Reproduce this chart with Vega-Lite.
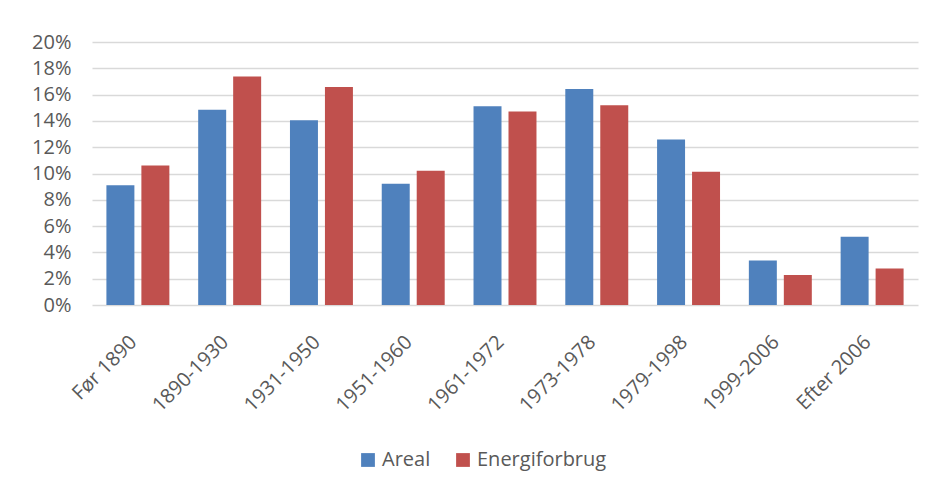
{
  "$schema": "https://vega.github.io/schema/vega-lite/v6.json",
  "width": 826,
  "height": 263,
  "autosize": {"type": "none"},
  "padding": {"left": 92, "top": 42, "right": 18, "bottom": 185},
  "background": "white",
  "data": {
    "values": [
      {"periode": "Før 1890", "serie": "Areal", "andel": 0.091},
      {"periode": "Før 1890", "serie": "Energiforbrug", "andel": 0.106},
      {"periode": "1890-1930", "serie": "Areal", "andel": 0.1485},
      {"periode": "1890-1930", "serie": "Energiforbrug", "andel": 0.1737},
      {"periode": "1931-1950", "serie": "Areal", "andel": 0.1404},
      {"periode": "1931-1950", "serie": "Energiforbrug", "andel": 0.1658},
      {"periode": "1951-1960", "serie": "Areal", "andel": 0.0922},
      {"periode": "1951-1960", "serie": "Energiforbrug", "andel": 0.102},
      {"periode": "1961-1972", "serie": "Areal", "andel": 0.1511},
      {"periode": "1961-1972", "serie": "Energiforbrug", "andel": 0.1471},
      {"periode": "1973-1978", "serie": "Areal", "andel": 0.1643},
      {"periode": "1973-1978", "serie": "Energiforbrug", "andel": 0.1519},
      {"periode": "1979-1998", "serie": "Areal", "andel": 0.1258},
      {"periode": "1979-1998", "serie": "Energiforbrug", "andel": 0.1013},
      {"periode": "1999-2006", "serie": "Areal", "andel": 0.0339},
      {"periode": "1999-2006", "serie": "Energiforbrug", "andel": 0.0228},
      {"periode": "Efter 2006", "serie": "Areal", "andel": 0.0519},
      {"periode": "Efter 2006", "serie": "Energiforbrug", "andel": 0.0278}
    ]
  },
  "mark": {"type": "bar"},
  "encoding": {
    "x": {
      "field": "periode",
      "type": "nominal",
      "sort": null,
      "scale": {"paddingInner": 0.314, "paddingOuter": 0.157},
      "axis": {
        "title": null,
        "labelAngle": -45,
        "labelAlign": "right",
        "labelBaseline": "alphabetic",
        "labelPadding": 38,
        "ticks": false,
        "domain": false,
        "grid": false
      }
    },
    "xOffset": {
      "field": "serie",
      "type": "nominal",
      "sort": ["Areal", "Energiforbrug"],
      "scale": {"paddingInner": 0.2, "paddingOuter": 0}
    },
    "y": {
      "field": "andel",
      "type": "quantitative",
      "scale": {"domain": [0, 0.2], "nice": false},
      "axis": {
        "title": null,
        "format": ".0%",
        "values": [0, 0.02, 0.04, 0.06, 0.08, 0.1, 0.12, 0.14, 0.16, 0.18, 0.2],
        "ticks": false,
        "domain": false,
        "labelPadding": 21,
        "grid": true,
        "gridColor": "#d9d9d9",
        "gridWidth": 1.5
      }
    },
    "color": {
      "field": "serie",
      "type": "nominal",
      "scale": {"domain": ["Areal", "Energiforbrug"], "range": ["#4f81bd", "#c0504d"]},
      "legend": {
        "title": null,
        "orient": "none",
        "direction": "horizontal",
        "legendX": 266,
        "legendY": 408,
        "symbolType": "square",
        "symbolSize": 190,
        "symbolStrokeWidth": 0,
        "symbolOpacity": 1,
        "labelFontSize": 20,
        "labelOffset": 4,
        "columnPadding": 22
      }
    }
  },
  "config": {
    "font": "Open Sans",
    "view": {"stroke": null},
    "axis": {"labelFont": "Open Sans", "labelFontSize": 20, "labelColor": "#595959"},
    "legend": {"labelFont": "Open Sans", "labelColor": "#595959"}
  }
}
